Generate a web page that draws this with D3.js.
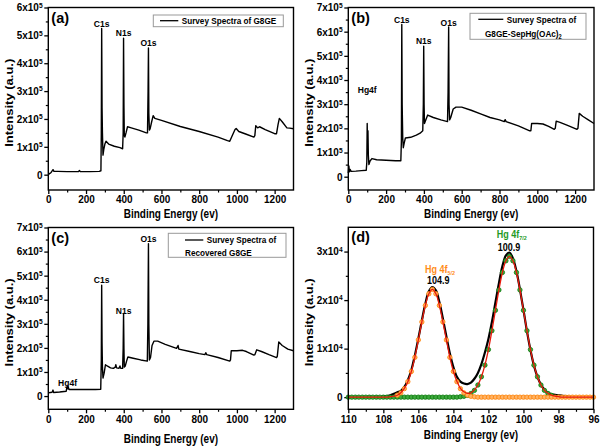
<!DOCTYPE html>
<html><head><meta charset="utf-8">
<script src="https://cdn.jsdelivr.net/npm/d3@7"></script>
<style>
body{margin:0;background:#fff;}
svg text{font-family:"Liberation Sans",Arial,sans-serif;font-weight:bold;fill:#000;}
</style></head><body>
<svg id="c" width="602" height="446"></svg>
<script>
// ---------- DATA ----------
// Panel (a) survey spectrum of G8GE (intensity in 1e5 counts)
const energyA = [0,5,15,25,30,50,100,160,165,170,220,270,279,281,283,285,287,290,294,300,306,320,350,380,394,397,399,401,403,406,412,420,440,480,520,526,529,531,533,536,540,548,556,565,600,700,800,900,950,962,975,990,996,1010,1050,1090,1095,1100,1110,1120,1150,1200,1210,1218,1225,1240,1265,1280,1300];
const intensityA = [0.0,0.03,0.08,0.18,0.12,0.12,0.11,0.11,0.15,0.11,0.11,0.12,0.14,1.5,5.25,2.4,1.5,0.7,0.9,1.1,1.2,1.1,1.02,0.97,0.93,1.5,4.9,2.5,1.4,1.35,1.5,1.72,1.68,1.6,1.5,1.5,3.0,4.55,2.2,1.6,1.65,1.9,2.12,2.02,1.95,1.73,1.55,1.35,1.22,1.2,1.4,1.62,1.66,1.55,1.45,1.35,1.4,1.76,1.68,1.72,1.62,1.47,1.47,1.8,2.02,1.9,1.68,1.67,1.65];
// Panel (b) G8GE-SepHg(OAc)2
const energyB = [0,3,6,10,15,40,70,95,98,100,102,104,106,109,115,125,150,200,250,278,281,283,285,288,291,296,302,330,360,380,394,397,399,401,403,408,420,450,490,525,528,531,533,536,542,555,570,600,650,700,750,800,825,830,835,900,960,966,970,1000,1030,1060,1090,1095,1100,1120,1160,1210,1215,1222,1240,1270,1300];
const intensityB = [0.15,0.45,0.2,0.3,0.22,0.23,0.25,0.27,0.6,2.2,1.0,1.9,0.9,0.5,0.65,0.75,0.7,0.68,0.66,0.66,1.5,6.3,3.0,1.6,1.2,1.4,1.6,1.63,1.72,1.8,1.9,3.0,5.4,3.0,2.2,2.3,2.55,2.45,2.35,2.28,3.5,6.2,3.0,2.35,2.45,2.8,2.88,2.88,2.75,2.6,2.45,2.35,2.28,2.36,2.28,2.1,1.9,1.9,2.2,2.2,2.18,2.08,1.96,2.0,2.3,2.25,2.12,1.96,2.0,2.62,2.5,2.35,2.2];
// Panel (c) Recovered G8GE
const energyC = [0,10,20,25,28,60,95,99,102,104,106,110,150,200,250,278,281,283,285,287,290,296,303,312,330,345,355,358,362,375,380,384,394,397,399,401,403,408,415,422,450,490,525,528,531,533,536,542,550,560,580,620,680,688,692,750,800,830,835,840,900,962,966,970,1000,1030,1050,1090,1095,1105,1130,1170,1210,1214,1222,1240,1270,1300];
const intensityC = [0.12,0.15,0.16,0.25,0.15,0.17,0.2,0.38,0.42,0.3,0.37,0.27,0.27,0.27,0.27,0.28,1.5,4.6,2.2,1.2,0.75,0.95,1.3,1.25,1.17,1.15,1.2,1.3,1.17,1.15,1.25,1.15,1.15,2.0,3.43,2.0,1.2,1.25,1.45,1.62,1.57,1.5,1.45,3.0,6.33,3.0,1.5,1.6,2.1,2.28,2.28,2.15,1.98,2.1,1.95,1.85,1.76,1.72,1.8,1.72,1.6,1.45,1.5,1.88,1.88,1.9,1.85,1.7,1.72,1.92,1.85,1.72,1.6,1.65,2.25,2.1,1.95,1.88];
// Panel (d) Hg 4f high resolution (intensity in 1e4), energies 110 -> 96 eV, step 0.2
const energyD = d3.range(0, 71).map(i => +(110 - 0.2 * i).toFixed(1));
const rawD = [0,0,0,0,0,0,0.01,0,0.01,0,0.02,0.02,
  0.04,0.07,0.1,0.13,0.21,0.35,0.56,0.86,1.21,1.58,1.93,2.18,2.27,2.2,1.96,1.62,1.25,0.9,0.62,0.42,0.32,0.28,0.27,0.3,0.38,0.5,0.68,0.92,1.2,1.55,1.95,2.35,2.7,2.92,2.98,2.86,2.6,2.22,1.8,1.36,0.97,0.65,0.42,0.26,0.15,0.09,0.06,0.05,0.04,
  0.03,0.02,0.01,0,0,0,0,0,0,0];
const fitD = [0,0,0,0,0,0,0,0,0,0,0,0,
  0.01,0.02,0.04,0.09,0.18,0.32,0.53,0.82,1.18,1.55,1.89,2.13,2.22,2.13,1.89,1.55,1.18,0.82,0.53,0.33,0.18,0.11,0.08,0.09,0.15,0.25,0.42,0.66,0.98,1.37,1.79,2.21,2.57,2.81,2.9,2.81,2.57,2.21,1.79,1.37,0.98,0.66,0.42,0.25,0.14,0.08,0.04,0.02,0.01,
  0,0,0,0,0,0,0,0,0,0];
const hg52D = [0,0,0,0,0,0,0,0,0,0,0,0,
  0.007,0.018,0.042,0.089,0.175,0.32,0.53,0.82,1.18,1.55,1.89,2.13,2.22,2.13,1.89,1.55,1.18,0.82,0.53,0.32,0.175,0.089,0.042,0.018,0.007,
  0,0,0,0,0,0,0,0,0,0,0,0,0,0,0,0,0,0,0,0,0,0,0,0,0,0,0,0,0,0,0,0,0,0];
const hg72D = [0,0,0,0,0,0,0,0,0,0,0,0,0,0,0,0,0,0,0,0,0,0,0,0,0,0,0,0,0,0,0,0,
  0.008,0.018,0.038,0.076,0.14,0.25,0.42,0.66,0.98,1.37,1.79,2.21,2.57,2.81,2.9,2.81,2.57,2.21,1.79,1.37,0.98,0.66,0.42,0.25,0.14,0.076,0.038,0.018,0.008,
  0,0,0,0,0,0,0,0,0,0];

const surveyXTicks = [0,200,400,600,800,1000,1200];
const surveyXMinor = [100,300,500,700,900,1100];
const dXTicks = [110,108,106,104,102,100,98,96];
const dXMinor = [109,107,105,103,101,99,97];

// ---------- DRAW ----------
const svg = d3.select('#c');

function txt(g, x, y, s, o = {}) {
  const t = g.append('text')
    .attr('transform', `translate(${x},${y}) scale(${o.sx || 1},1)` + (o.rot ? ` rotate(${o.rot})` : ''))
    .attr('font-size', o.size || 10)
    .attr('text-anchor', o.anchor || 'start');
  if (o.fill) t.style('fill', o.fill);
  return t.text(s);
}

function panel(cfg) {
  const g = svg.append('g');
  const x = d3.scaleLinear().domain(cfg.xDomain).range([cfg.left, cfg.right]);
  const y = d3.scaleLinear().domain(cfg.yDomain).range([cfg.bottom, cfg.top]);
  // x axis
  const gx = g.append('g').attr('transform', `translate(0,${cfg.bottom})`)
    .call(d3.axisBottom(x).tickValues(cfg.xTicks).tickSize(4).tickSizeOuter(0).tickPadding(2).tickFormat(d => d));
  gx.select('.domain').remove();
  gx.selectAll('line').attr('stroke-width', 1.3);
  gx.selectAll('text').attr('font-size', 10.5).attr('transform', 'scale(0.95,1)');
  const gxm = g.append('g').attr('transform', `translate(0,${cfg.bottom})`)
    .call(d3.axisBottom(x).tickValues(cfg.xMinor).tickSize(2.5).tickSizeOuter(0).tickFormat(''));
  gxm.select('.domain').remove();
  gxm.selectAll('line').attr('stroke-width', 1.2);
  // y axis
  const gy = g.append('g').attr('transform', `translate(${cfg.left},0)`)
    .call(d3.axisLeft(y).tickValues(cfg.yTicks).tickSize(4).tickSizeOuter(0).tickPadding(2));
  gy.select('.domain').remove();
  gy.selectAll('line').attr('stroke-width', 1.3);
  gy.selectAll('text').attr('font-size', 10.5).attr('transform', 'scale(0.95,1)')
    .each(function (d) {
      const t = d3.select(this);
      t.text(null);
      if (d === 0) { t.text('0'); return; }
      t.append('tspan').text(d + 'x10');
      t.append('tspan').attr('font-size', 7).attr('dy', '-0.5em').text(cfg.exp);
    });
  const gym = g.append('g').attr('transform', `translate(${cfg.left},0)`)
    .call(d3.axisLeft(y).tickValues(cfg.yMinor).tickSize(2.5).tickSizeOuter(0).tickFormat(''));
  gym.select('.domain').remove();
  gym.selectAll('line').attr('stroke-width', 1.2);
  // titles
  txt(g, (cfg.left + cfg.right) / 2, cfg.xTitleY, 'Binding Energy (ev)', {size: 12.5, sx: 0.8, anchor: 'middle'});
  txt(g, cfg.yTitleX, (cfg.top + cfg.bottom) / 2 + 4, 'Intensity (a.u.)', {size: 13, sx: 0.85, anchor: 'middle', rot: -90});
  txt(g, cfg.left + 3, cfg.top + 15, cfg.tag, {size: 14.5});
  return {g, x, y};
}

function frame(p, cfg) {
  p.g.append('rect').attr('x', cfg.left).attr('y', cfg.top)
    .attr('width', cfg.right - cfg.left).attr('height', cfg.bottom - cfg.top)
    .attr('fill', 'none').attr('stroke', '#000').attr('stroke-width', 1.4);
}

function survey(cfg, E, I, labels, legendLines, legendBox) {
  const p = panel(cfg);
  const pts = E.map((e, i) => [e, I[i]]);
  p.g.append('path').datum(pts)
    .attr('d', d3.line().x(d => p.x(d[0])).y(d => p.y(d[1])))
    .attr('fill', 'none').attr('stroke', '#000').attr('stroke-width', 1.4).attr('stroke-linejoin', 'round');
  labels.forEach(l => txt(p.g, p.x(l.e), l.y, l.t, {size: 9.5, sx: 0.9, anchor: 'middle'}));
  // legend
  const b = legendBox;
  p.g.append('rect').attr('x', b.x).attr('y', b.y).attr('width', b.w).attr('height', b.h)
    .attr('fill', '#fff').attr('stroke', '#999').attr('stroke-width', 1);
  p.g.append('line').attr('x1', b.lx1).attr('x2', b.lx2).attr('y1', b.ly).attr('y2', b.ly)
    .attr('stroke', '#000').attr('stroke-width', 1.3);
  legendLines.forEach(l => {
    const t = txt(p.g, l.x, l.y, '', {size: 9.3, sx: 0.88});
    t.append('tspan').text(l.t);
    if (l.sub) t.append('tspan').attr('font-size', 6.5).attr('dy', '0.35em').text(l.sub);
  });
  frame(p, cfg);
  return p;
}

const cfgA = {left: 48.3, right: 293.5, top: 7.5, bottom: 190, xDomain: [0, 1300], yDomain: [-0.55, 6],
  xTicks: surveyXTicks, xMinor: surveyXMinor, yTicks: [0,1,2,3,4,5,6], yMinor: [0.5,1.5,2.5,3.5,4.5,5.5],
  exp: '5', xTitleY: 217.5, yTitleX: 12.5, tag: '(a)'};
survey(cfgA, energyA, intensityA,
  [{e: 283, y: 26.5, t: 'C1s'}, {e: 399, y: 36, t: 'N1s'}, {e: 531, y: 46, t: 'O1s'}],
  [{x: 181.7, y: 24, t: 'Survey Spectra of G8GE'}],
  {x: 153.3, y: 15, w: 130, h: 11.7, lx1: 160, lx2: 178.3, ly: 20.7});

const cfgB = {left: 348.3, right: 594, top: 7.5, bottom: 190, xDomain: [0, 1300], yDomain: [-0.55, 7],
  xTicks: surveyXTicks, xMinor: surveyXMinor, yTicks: [0,1,2,3,4,5,6,7], yMinor: [0.5,1.5,2.5,3.5,4.5,5.5,6.5],
  exp: '5', xTitleY: 217.5, yTitleX: 312.5, tag: '(b)'};
survey(cfgB, energyB, intensityB,
  [{e: 100, y: 93.3, t: 'Hg4f'}, {e: 283, y: 22.7, t: 'C1s'}, {e: 399, y: 44.3, t: 'N1s'}, {e: 531, y: 26, t: 'O1s'}],
  [{x: 506.7, y: 22.7, t: 'Survey Spectra of'}, {x: 485, y: 36.5, t: 'G8GE-SepHg(OAc)', sub: '2'}],
  {x: 470, y: 13.3, w: 116, h: 26, lx1: 478.3, lx2: 503.3, ly: 19.3});

const cfgC = {left: 48.3, right: 293.5, top: 227.5, bottom: 409.3, xDomain: [0, 1300], yDomain: [-0.55, 7],
  xTicks: surveyXTicks, xMinor: surveyXMinor, yTicks: [0,1,2,3,4,5,6,7], yMinor: [0.5,1.5,2.5,3.5,4.5,5.5,6.5],
  exp: '5', xTitleY: 443, yTitleX: 12.5, tag: '(c)'};
survey(cfgC, energyC, intensityC,
  [{e: 102, y: 386, t: 'Hg4f'}, {e: 283, y: 283.3, t: 'C1s'}, {e: 399, y: 314, t: 'N1s'}, {e: 531, y: 241.7, t: 'O1s'}],
  [{x: 206.7, y: 242.7, t: 'Survey Spectra of'}, {x: 185, y: 255.5, t: 'Recovered G8GE'}],
  {x: 168.3, y: 233.3, w: 117.7, h: 24, lx1: 185, lx2: 203.3, ly: 240});

// Panel (d)
const cfgD = {left: 348.3, right: 593.5, top: 227.3, bottom: 409.3, xDomain: [110, 96], yDomain: [-0.25, 3.5],
  xTicks: dXTicks, xMinor: dXMinor, yTicks: [0,1,2,3], yMinor: [0.5,1.5,2.5],
  exp: '4', xTitleY: 438.5, yTitleX: 312.5, tag: '(d)'};
const pd = panel(cfgD);
const lineD = vals => d3.line().curve(d3.curveCatmullRom)
  .x((d, i) => pd.x(energyD[i])).y(d => pd.y(d))(vals);
pd.g.append('path').attr('d', lineD(rawD)).attr('fill', 'none').attr('stroke', '#000').attr('stroke-width', 2.2);
const greenPts = hg72D.map((v, i) => [energyD[i], v]).filter(d => d[0] >= 98.4);
const orangePts = hg52D.map((v, i) => [energyD[i], v]).filter(d => d[0] <= 107.2);
pd.g.append('g').selectAll('circle').data(greenPts).join('circle')
  .attr('cx', d => pd.x(d[0])).attr('cy', d => pd.y(d[1])).attr('r', 2.2)
  .attr('fill', '#3da83d').attr('stroke', '#0b7a0b').attr('stroke-width', 0.8);
pd.g.append('g').selectAll('circle').data(orangePts).join('circle')
  .attr('cx', d => pd.x(d[0])).attr('cy', d => pd.y(d[1])).attr('r', 2.2)
  .attr('fill', '#ffb366').attr('stroke', '#ff8000').attr('stroke-width', 0.8);
pd.g.append('path').attr('d', lineD(fitD)).attr('fill', 'none').attr('stroke', '#e81a0c').attr('stroke-width', 1.3);
// peak labels
const l72 = txt(pd.g, 496.7, 238.3, '', {size: 10, sx: 0.9, fill: '#1f9a1f'});
l72.append('tspan').text('Hg 4f');
l72.append('tspan').attr('font-size', 6).attr('dy', '0.35em').text('7/2');
txt(pd.g, 509, 250.7, '100.9', {size: 10, sx: 0.9, anchor: 'middle'});
const l52 = txt(pd.g, 425, 272.7, '', {size: 10, sx: 0.9, fill: '#ff8c1a'});
l52.append('tspan').text('Hg 4f');
l52.append('tspan').attr('font-size', 6).attr('dy', '0.35em').text('5/2');
txt(pd.g, 438.3, 284.3, '104.9', {size: 10, sx: 0.9, anchor: 'middle'});
frame(pd, cfgD);
</script>
</body></html>
